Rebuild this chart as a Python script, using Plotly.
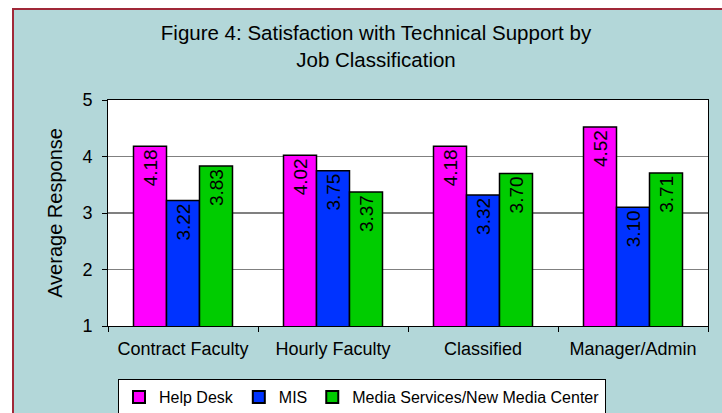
import plotly.graph_objects as go

categories = ["Contract Faculty", "Hourly Faculty", "Classified", "Manager/Admin"]
help_desk = [4.18, 4.02, 4.18, 4.52]
mis = [3.22, 3.75, 3.32, 3.10]
media = [3.83, 3.37, 3.70, 3.71]
series_names = ["Help Desk", "MIS", "Media Services/New Media Center"]
colors = ["#FF00FF", "#0033FF", "#00CC00"]
y_ticks = [1, 2, 3, 4, 5]

W, H = 722, 413
L, R, T, B = 108, 722 - 708, 100, 413 - 326
pw, ph = W - L - R, H - T - B
FONT = "Liberation Sans, Arial"

fig = go.Figure()
for name, vals, c in zip(series_names, [help_desk, mis, media], colors):
    fig.add_trace(go.Bar(
        x=categories, y=vals, name=name,
        marker=dict(color=c, line=dict(color="black", width=1.5)),
        text=[f"{v:.2f}" for v in vals],
        textposition="inside", insidetextanchor="end", textangle=-90,
        constraintext="none",
        textfont=dict(color="black", size=19, family=FONT),
    ))

def px_x(p):  # page pixel -> paper x
    return (p - L) / pw

def px_y(p):  # page pixel -> paper y
    return (H - B - p) / ph

shapes = [
    dict(type="rect", xref="paper", yref="paper", x0=px_x(13), x1=px_x(760),
         y0=px_y(440), y1=px_y(9), fillcolor="#B3D7D9",
         line=dict(color="#A02838", width=2), layer="below"),
    dict(type="rect", xref="paper", yref="paper", x0=0, x1=1, y0=0, y1=1,
         fillcolor="white", line=dict(width=0), layer="below"),
    dict(type="line", xref="paper", yref="y", x0=0, x1=1, y0=3, y1=3,
         line=dict(color="black", width=1), layer="between"),
]

fig.update_layout(
    width=W, height=H,
    margin=dict(l=L, r=R, t=T, b=B, autoexpand=False),
    paper_bgcolor="white", plot_bgcolor="white",
    font=dict(family=FONT, size=18, color="black"),
    title=dict(text="Figure 4: Satisfaction with Technical Support by<br>Job Classification",
               x=376 / W, xref="container", xanchor="center",
               y=1 - 40 / H, yref="container", yanchor="top",
               font=dict(size=20.5, color="black")),
    barmode="group", bargap=0.34, bargroupgap=0,
    shapes=shapes,
    showlegend=True,
    legend=dict(orientation="h", x=px_x(362), xanchor="center",
                y=px_y(379), yanchor="top",
                bgcolor="white", bordercolor="black", borderwidth=1,
                font=dict(size=16), itemwidth=30, tracegroupgap=0,
                itemsizing="constant"),
)
fig.update_yaxes(range=[1, 5], tickvals=y_ticks, showgrid=True, gridcolor="#808080",
                 gridwidth=1, showline=True, linecolor="black", linewidth=1,
                 mirror=True, ticks="outside", ticklen=5, tickcolor="black",
                 ticklabelstandoff=6, tickfont=dict(size=18),
                 title=dict(text="Average Response", standoff=14, font=dict(size=20)),
                 zeroline=False, automargin=False)
fig.update_xaxes(showline=True, linecolor="black", linewidth=1, mirror=True,
                 ticks="outside", tickson="boundaries", ticklen=5, tickcolor="black",
                 ticklabelstandoff=6, tickfont=dict(size=18), automargin=False)

fig.write_html("out.html", config={"displayModeBar": False},
               post_script="document.body.style.margin='0';document.body.style.overflow='hidden';")
